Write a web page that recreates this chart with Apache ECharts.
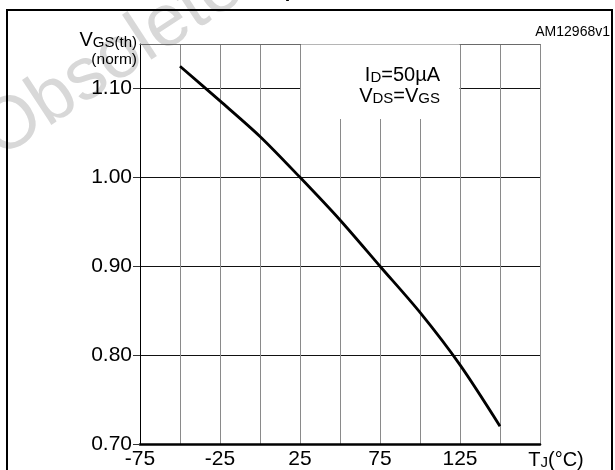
<!DOCTYPE html>
<html><head><meta charset="utf-8">
<script src="https://cdn.jsdelivr.net/npm/echarts@6/dist/echarts.min.js"></script>
<style>html,body{margin:0;padding:0;background:#fff}#c{width:615px;height:470px}</style>
</head><body><div id="c"></div>
<script>
// ---- data ----
const tempC = [-50, -25, 0, 25, 50, 75, 100, 125, 150];
const vgsNorm = [1.125, 1.086, 1.046, 1.000, 0.952, 0.900, 0.848, 0.789, 0.720];
const xTickLabels = [-75, -25, 25, 75, 125];
const yTickLabels = [0.70, 0.80, 0.90, 1.00, 1.10];

const FONT = 'Liberation Sans, Arial, sans-serif';
const chart = echarts.init(document.getElementById('c'), null, {renderer: 'canvas'});

const option = {
  animation: false,
  backgroundColor: '#fff',
  grid: {left: 140, top: 44, width: 400, height: 400, containLabel: false},
  xAxis: [{
    type: 'value', min: -75, max: 175, interval: 25,
    axisLine: {show: true, onZero: false, lineStyle: {color: '#000', width: 2.6}},
    axisTick: {show: false},
    splitLine: {show: true, lineStyle: {color: '#8a8a8a', width: 1}},
    axisLabel: {customValues: xTickLabels, fontFamily: FONT, fontSize: 21, color: '#000', margin: 5}
  }, {
    type: 'value', position: 'top', min: -75, max: 175, interval: 25,
    axisLine: {show: true, lineStyle: {color: '#6a6a6a', width: 1}},
    axisTick: {show: false}, axisLabel: {show: false}, splitLine: {show: false}
  }],
  yAxis: {
    type: 'value', min: 0.7, max: 1.15, interval: 0.05,
    axisLine: {show: true, onZero: false, lineStyle: {color: '#000', width: 1}},
    axisTick: {show: true, customValues: yTickLabels, length: 7, lineStyle: {color: '#333', width: 1}},
    splitLine: {show: true, lineStyle: {color: '#111', width: 1}},
    axisLabel: {customValues: yTickLabels, formatter: v => v.toFixed(2), fontFamily: FONT, fontSize: 21, color: '#000', margin: 8}
  },
  series: [{
    type: 'line', xAxisIndex: 0,
    data: tempC.map((t, i) => [t, vgsNorm[i]]),
    smooth: 0.3, showSymbol: false, symbol: 'none',
    lineStyle: {color: '#000', width: 2.8}
  }]
};
chart.setOption(option);

// annotation box region from data coordinates
const pTL = chart.convertToPixel({xAxisIndex: 0, yAxisIndex: 0}, [25, 1.15]);
const pBR = chart.convertToPixel({xAxisIndex: 0, yAxisIndex: 0}, [125, 1.0656]);
const pLab = chart.convertToPixel({xAxisIndex: 0, yAxisIndex: 0}, [175, 0.70]);

const sub = {fontFamily: FONT, fontSize: 15, color: '#000', verticalAlign: 'bottom'};
const big = {fontFamily: FONT, fontSize: 20, color: '#000', verticalAlign: 'bottom'};

chart.setOption({
  graphic: [
    {type: 'text', z: -5, x: -12, y: 142, rotation: 0.58,
      style: {text: 'Obsolete Product(s)', fontFamily: FONT, fontSize: 74, fill: '#d8d8d8', align: 'left', verticalAlign: 'middle'}},
    {type: 'text', z: 5, x: 307, y: -9,
      style: {text: 'temperature', fontFamily: FONT, fontWeight: 'bold', fontSize: 20, fill: '#000', align: 'center', verticalAlign: 'middle'}},
    {type: 'rect', z: 20, shape: {x: 7, y: 10, width: 605, height: 480},
      style: {fill: 'none', stroke: '#000', lineWidth: 2}},
    {type: 'text', z: 5, x: 610, y: 39,
      style: {text: 'AM12968v1', fontFamily: FONT, fontSize: 14, fill: '#000', align: 'right', verticalAlign: 'bottom'}},
    {type: 'rect', z: 10, shape: {x: pTL[0] + 1, y: pTL[1] + 0.5, width: pBR[0] - pTL[0] - 1.5, height: pBR[1] - pTL[1] - 0.5},
      style: {fill: '#fff'}},
    {type: 'text', z: 11, x: 440, y: 85,
      style: {text: '{b|I}{s|D}{b|=50µA}', align: 'right', verticalAlign: 'bottom', rich: {b: big, s: sub}}},
    {type: 'text', z: 11, x: 440, y: 106,
      style: {text: '{b|V}{s|DS}{b|=V}{s|GS}', align: 'right', verticalAlign: 'bottom', rich: {b: big, s: sub}}},
    {type: 'text', z: 11, x: 137, y: 50,
      style: {text: '{b|V}{s|GS(th)}', align: 'right', verticalAlign: 'bottom', rich: {b: big, s: sub}}},
    {type: 'text', z: 11, x: 137, y: 68,
      style: {text: '(norm)', fontFamily: FONT, fontSize: 15.5, fill: '#000', align: 'right', verticalAlign: 'bottom'}},
    {type: 'text', z: 11, x: pLab[0] + 16, y: pLab[1] + 26,
      style: {text: '{b|T}{s|J}{b|(°C)}', align: 'center', verticalAlign: 'bottom', rich: {b: big, s: sub}}}
  ]
});
</script></body></html>
